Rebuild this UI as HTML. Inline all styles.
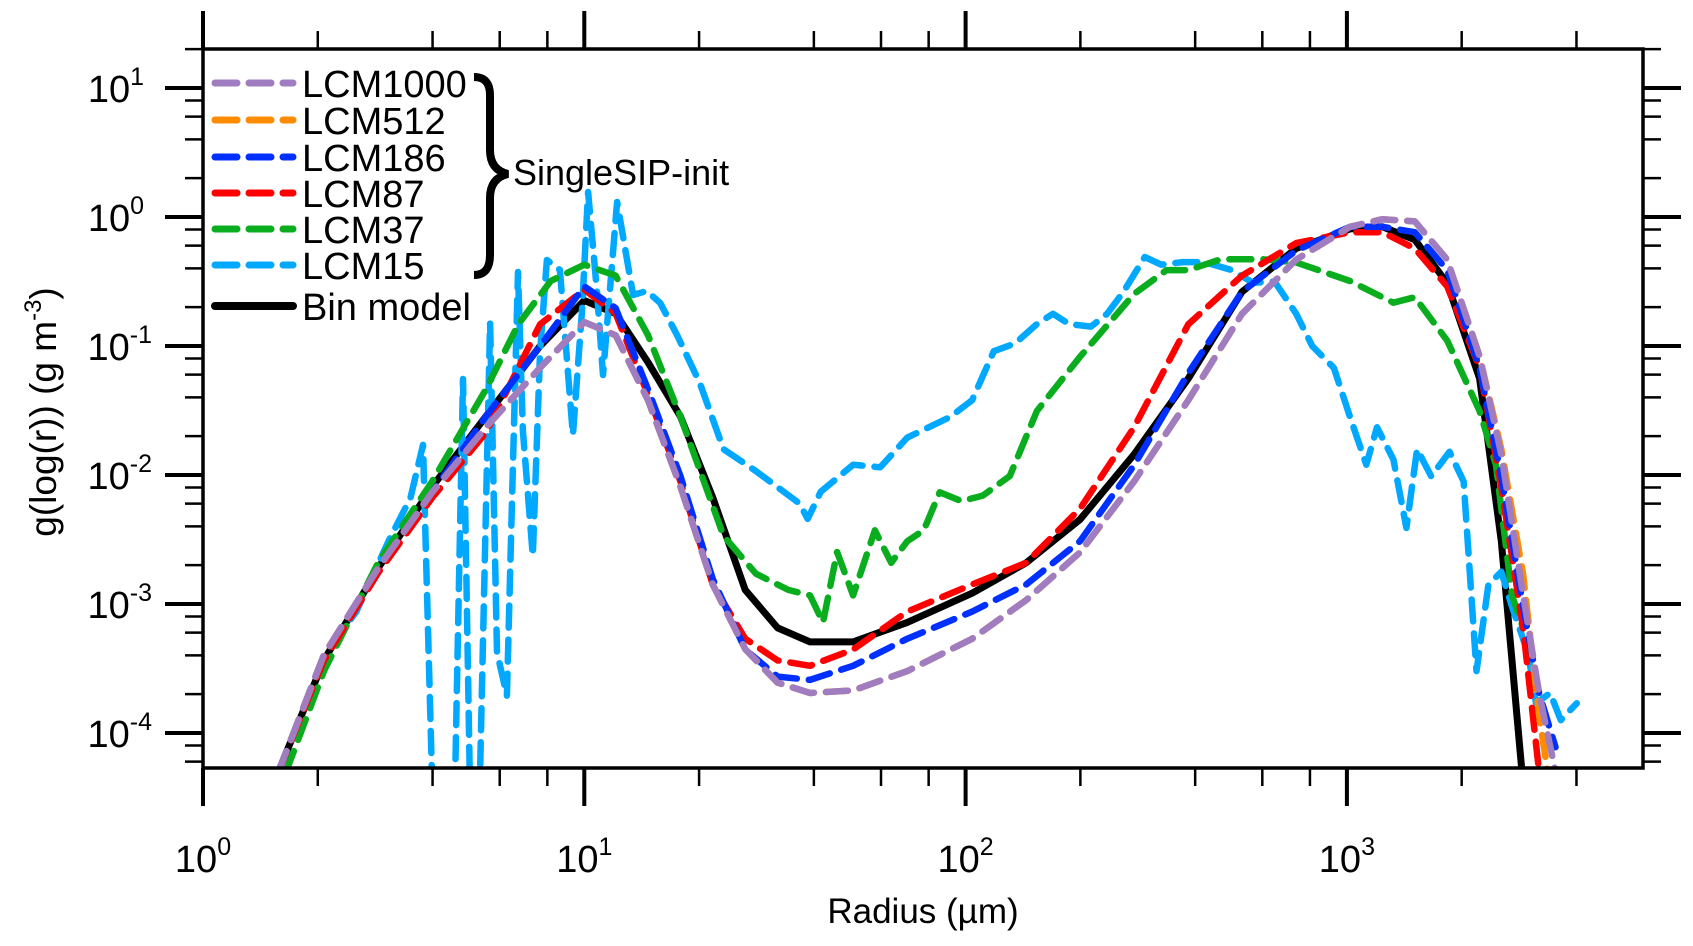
<!DOCTYPE html>
<html><head><meta charset="utf-8">
<style>
html,body{margin:0;padding:0;background:#fff;}
svg{display:block;font-family:"Liberation Sans",Arial,sans-serif;}
</style></head>
<body>
<svg id="chart" width="1693" height="946" viewBox="0 0 1693 946" xmlns="http://www.w3.org/2000/svg">
<defs><clipPath id="plotclip"><rect x="203" y="49" width="1440" height="719"/></clipPath></defs>
<g id="series" clip-path="url(#plotclip)"></g>
<rect x="203" y="49" width="1440" height="719" fill="none" stroke="#000" stroke-width="3.5"/>
<g id="ticks"></g>
<g id="labels" font-size="38"></g>
<text x="923" y="923" font-size="35" text-anchor="middle">Radius (µm)</text>
<text transform="translate(56,412) rotate(-90)" font-size="37" text-anchor="middle">g(log(r)) (g m<tspan font-size="24" dy="-15">-3</tspan><tspan dy="15">)</tspan></text>
<g id="legend"></g>
<path d="M474,77 Q490,77 490,95 L490,150 Q490,170 508,174 Q490,178 490,198 L490,255 Q490,275 474,275" fill="none" stroke="#000" stroke-width="8"/>
<text x="513" y="185" font-size="36">SingleSIP-init</text>
</svg>
<script>
// ---- data (log10 radius [µm], log10 g [g m^-3]) ----
const gridLogR = [0.198,0.317,0.459,0.601,0.742,0.884,1.0,1.082,1.167,1.252,1.337,1.422,1.507,1.592,1.705,1.847,2.017,2.159,2.3,2.442,2.584,2.725,2.867,3.008,3.093,3.178,3.263,3.348,3.405,3.462,3.504,3.547];
const lcm1000LogG = [-4.3,-3.395,-2.723,-2.134,-1.63,-1.168,-0.815,-0.916,-1.42,-2.09,-2.85,-3.35,-3.61,-3.69,-3.67,-3.52,-3.27,-2.97,-2.6,-2.05,-1.42,-0.75,-0.33,-0.076,-0.017,-0.034,-0.33,-1.08,-1.84,-2.93,-3.69,-4.3];
const lcm512LogG = [-4.3,-3.395,-2.723,-2.134,-1.63,-1.168,-0.815,-0.916,-1.42,-2.09,-2.85,-3.35,-3.61,-3.69,-3.67,-3.52,-3.27,-2.97,-2.6,-2.05,-1.42,-0.75,-0.33,-0.076,-0.017,-0.034,-0.33,-1.08,-1.8,-2.77,-3.86,-4.7];
const lcm186LogG = [-4.3,-3.395,-2.723,-2.134,-1.546,-1.0,-0.538,-0.706,-1.336,-2.008,-2.807,-3.353,-3.563,-3.588,-3.479,-3.269,-3.059,-2.849,-2.513,-1.924,-1.21,-0.58,-0.26,-0.076,-0.076,-0.118,-0.412,-1.168,-2.008,-3.017,-3.69,-4.11];
const lcm87LogG = [-4.3,-3.437,-2.76,-2.176,-1.672,-0.832,-0.563,-0.748,-1.378,-2.05,-2.849,-3.269,-3.437,-3.479,-3.353,-3.059,-2.849,-2.681,-2.261,-1.63,-0.832,-0.454,-0.202,-0.118,-0.118,-0.244,-0.538,-1.168,-2.092,-3.185,-4.3,-4.6];
const binLogG = [-4.3,-3.437,-2.723,-2.092,-1.546,-1.0,-0.647,-0.748,-1.126,-1.546,-2.176,-2.891,-3.185,-3.294,-3.294,-3.143,-2.916,-2.681,-2.345,-1.84,-1.252,-0.58,-0.244,-0.092,-0.076,-0.176,-0.513,-1.252,-2.513,-4.4,null,null];
const lcm37LogR = [0.218,0.317,0.459,0.601,0.742,0.827,0.912,1.0,1.082,1.167,1.252,1.365,1.45,1.535,1.592,1.626,1.663,1.705,1.762,1.805,1.847,1.89,1.932,1.989,2.045,2.116,2.187,2.3,2.442,2.527,2.584,2.669,2.782,2.867,3.008,3.122,3.178,3.263,3.348,3.391,3.433,3.462];
const lcm37LogG = [-4.3,-3.521,-2.681,-2.05,-1.336,-0.832,-0.496,-0.37,-0.454,-0.916,-1.546,-2.471,-2.765,-2.891,-2.933,-3.143,-2.597,-2.933,-2.429,-2.681,-2.513,-2.429,-2.134,-2.202,-2.16,-2.008,-1.504,-1.084,-0.597,-0.412,-0.412,-0.328,-0.328,-0.353,-0.496,-0.664,-0.622,-0.958,-1.504,-1.924,-2.933,-3.185];
const lcm15LogR = [0.198,0.317,0.402,0.487,0.544,0.577,0.601,0.661,0.682,0.700,0.726,0.753,0.771,0.797,0.826,0.839,0.865,0.884,0.902,0.936,0.970,0.994,1.010,1.033,1.049,1.086,1.128,1.164,1.199,1.243,1.303,1.365,1.45,1.564,1.586,1.62,1.705,1.776,1.847,1.96,2.017,2.074,2.13,2.187,2.229,2.272,2.329,2.371,2.414,2.47,2.513,2.569,2.626,2.697,2.754,2.81,2.867,2.909,2.966,3.008,3.051,3.079,3.122,3.156,3.184,3.221,3.269,3.306,3.34,3.371,3.405,3.433,3.476,3.496,3.533,3.561,3.603];
const lcm15LogG = [-4.3,-3.395,-3.06,-2.51,-2.18,-1.767,-4.4,-4.4,-1.256,-4.4,-4.4,-0.822,-3.372,-3.713,-0.426,-1.659,-2.628,-1.039,-0.333,-0.411,-1.69,-0.729,0.194,-0.574,-1.225,0.116,-0.605,-0.574,-0.667,-0.915,-1.287,-1.8,-1.97,-2.22,-2.34,-2.13,-1.92,-1.94,-1.71,-1.55,-1.42,-1.04,-0.98,-0.83,-0.75,-0.83,-0.85,-0.75,-0.58,-0.31,-0.37,-0.35,-0.35,-0.41,-0.51,-0.5,-0.75,-1.0,-1.17,-1.55,-1.92,-1.63,-1.88,-2.41,-1.8,-2.01,-1.82,-2.05,-3.52,-2.85,-2.75,-3.02,-3.39,-3.77,-3.69,-3.9,-3.77];
const xTickExps = [0,1,2,3];
const yTickExps = [1,0,-1,-2,-3,-4];
const legendLabels = ["LCM1000","LCM512","LCM186","LCM87","LCM37","LCM15","Bin model"];

// ---- axes ----
const X0=203, XDEC=381.3, Y0=88, YDEC=129, XR=1643, YT=49, YB=768;
const sx = lr => X0 + lr*XDEC;
const sy = lg => Y0 + (1-lg)*YDEC;
const NS="http://www.w3.org/2000/svg";
function mk(tag, attrs, parent){const e=document.createElementNS(NS,tag);for(const k in attrs)e.setAttribute(k,attrs[k]);parent.appendChild(e);return e;}
const mults=[1,2,4,6,8];

const ticks=document.getElementById('ticks');
for(let d=0; d<=3; d++){
  for(const m of mults){
    const lr=d+Math.log10(m); const x=sx(lr); if(x>XR) break;
    const major=m===1, len=major?38:18;
    const t1=mk('line',{x1:x,x2:x,y1:YB,y2:YB+len,stroke:'#000','stroke-width':major?4:2.5},ticks);
    
    
    const t2=mk('line',{x1:x,x2:x,y1:YT,y2:YT-len,stroke:'#000','stroke-width':major?4:2.5},ticks);
    
    
  }
}
for(let d=-5; d<=1; d++){
  for(const m of mults){
    const lg=d+Math.log10(m); const y=sy(lg); if(y>YB||y<YT) continue;
    const major=m===1, len=major?38:18;
    const t1=mk('line',{x1:X0,x2:X0-len,y1:y,y2:y,stroke:'#000','stroke-width':major?4:2.5},ticks);
    
    
    const t2=mk('line',{x1:XR,x2:XR+len,y1:y,y2:y,stroke:'#000','stroke-width':major?4:2.5},ticks);
    
    
  }
}
const labels=document.getElementById('labels');
xTickExps.forEach(e=>{
  const t=mk('text',{x:sx(e),y:872,'text-anchor':'middle'},labels);
  
  
  t.innerHTML='10<tspan font-size="25" dy="-17">'+e+'</tspan>';
});
yTickExps.forEach(e=>{
  const t=mk('text',{x:e<0?152:144,y:sy(e)+14,'text-anchor':'end'},labels);
  
  
  t.innerHTML='10<tspan font-size="25" dy="-17">'+(e<0?'-'+(-e):e)+'</tspan>';
});

// ---- series ----
const seriesG=document.getElementById('series');
const series=[
  {name:'bin-model-line', xs:gridLogR, ys:binLogG, color:'#000', dash:null},
  {name:'lcm15-line', xs:lcm15LogR, ys:lcm15LogG, color:'#00a8ff', dash:'22 12'},
  {name:'lcm37-line', xs:lcm37LogR, ys:lcm37LogG, color:'#0aad1e', dash:'22 12'},
  {name:'lcm87-line', xs:gridLogR, ys:lcm87LogG, color:'#ff0000', dash:'22 12'},
  {name:'lcm186-line', xs:gridLogR, ys:lcm186LogG, color:'#0030ff', dash:'22 12'},
  {name:'lcm512-line', xs:gridLogR, ys:lcm512LogG, color:'#ff8c00', dash:'22 12'},
  {name:'lcm1000-line', xs:gridLogR, ys:lcm1000LogG, color:'#a07cc0', dash:'22 12'}
];
series.forEach(s=>{
  let d='';
  s.xs.forEach((lr,i)=>{const lg=s.ys[i]; if(lg===null||lg===undefined) return; d+=(d?'L':'M')+sx(lr).toFixed(1)+','+sy(lg).toFixed(1);});
  const attrs={d:d,fill:'none',stroke:s.color,'stroke-width':s.dash?6.5:7,'stroke-linecap':'round','stroke-linejoin':'round'};
  if(s.dash) attrs['stroke-dasharray']=s.dash;
  const p=mk('path',attrs,seriesG);
  
  
});

// ---- legend ----
const legend=document.getElementById('legend');
const legendColors=['#a07cc0','#ff8c00','#0030ff','#ff0000','#0aad1e','#00a8ff','#000'];
const legendY=[83,120,157,193,229,265,306];
legendLabels.forEach((lab,i)=>{
  const y=legendY[i], solid=i===6;
  const l=mk('line',{x1:215,x2:293,y1:y,y2:y,stroke:legendColors[i],'stroke-width':solid?8:7,'stroke-linecap':'round','stroke-dasharray':solid?'none':'22 12'},legend);
  
  
  const t=mk('text',{x:302,y:y+14,'font-size':38},legend);
  
  
  t.textContent=lab;
});
</script>
</body></html>
